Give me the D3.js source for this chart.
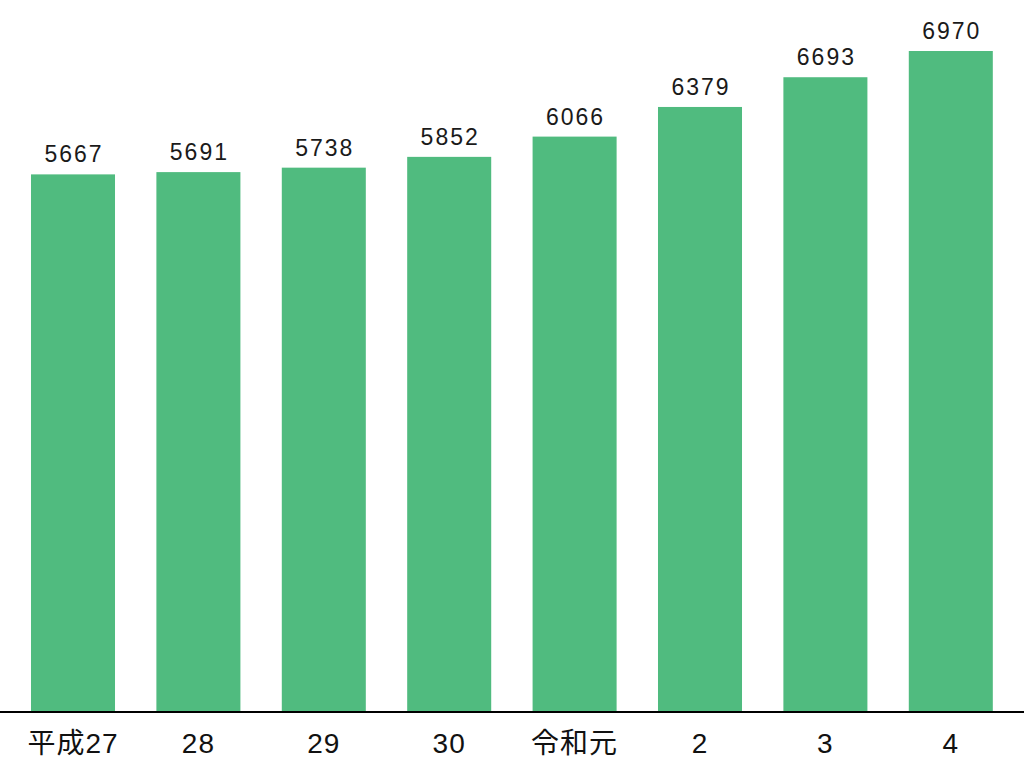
<!DOCTYPE html>
<html><head><meta charset="utf-8">
<script src="https://cdn.jsdelivr.net/npm/d3@7"></script>
<style>html,body{margin:0;padding:0;background:#fff;}svg{display:block;}</style>
</head><body>
<svg id="chart" width="1024" height="773"></svg>
<script>
const categories = ["平成27", "28", "29", "30", "令和元", "2", "3", "4"];
const values = [5667, 5691, 5738, 5852, 6066, 6379, 6693, 6970];

const svg = d3.select("#chart");
const W = 1024, H = 773;
const x = d3.scaleBand().domain(categories).range([10.3, 1013.5]).paddingInner(0.33).paddingOuter(0.165);
const y = d3.scaleLinear().domain([0, 6970]).range([711, 51]);

const font = "'Liberation Sans', 'Noto Sans CJK JP', sans-serif";

svg.selectAll("rect.bar").data(values).join("rect")
  .attr("class", "bar")
  .attr("x", (d, i) => x(categories[i]))
  .attr("width", x.bandwidth())
  .attr("y", d => y(d))
  .attr("height", d => y(0) - y(d))
  .attr("fill", "#50bb7f");

svg.selectAll("text.val").data(values).join("text")
  .attr("class", "val")
  .attr("x", (d, i) => x(categories[i]) + x.bandwidth() / 2 + 1)
  .attr("y", d => y(d) - 12)
  .attr("text-anchor", "middle")
  .attr("font-family", font)
  .attr("font-size", 23)
  .attr("letter-spacing", 2)
  .attr("fill", "#1a1a1a")
  .text(d => d);

const axis = d3.axisBottom(x).tickSize(0).tickPadding(0);
const g = svg.append("g").attr("transform", "translate(0,711)").call(axis);
g.select(".domain").remove();
g.append("line").attr("x1", 0).attr("x2", W).attr("y1", 1).attr("y2", 1)
  .attr("stroke", "#000").attr("stroke-width", 2);
g.selectAll(".tick text")
  .attr("y", 42)
  .attr("dy", null)
  .attr("font-family", font)
  .attr("font-size", 28)
  .attr("letter-spacing", 1)
  .attr("fill", "#111");
</script>
</body></html>
